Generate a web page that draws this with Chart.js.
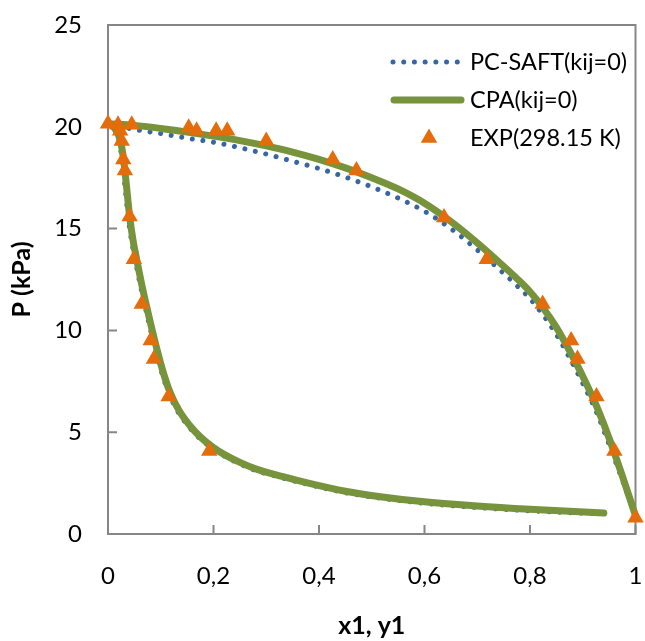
<!DOCTYPE html>
<html>
<head>
<meta charset="utf-8">
<script src="https://cdn.jsdelivr.net/npm/chart.js@4.4.0/dist/chart.umd.min.js"></script>
<style>
  body { margin: 0; background: #fff; }
</style>
</head>
<body>
<canvas id="vleChart" width="645" height="641"></canvas>
<script>
// PC-SAFT(kij=0), bubble (liquid x1) and dew (vapour y1) curves
const saftBubbleX = [0, 0.05, 0.10, 0.15, 0.20, 0.25, 0.30, 0.35, 0.40, 0.45, 0.50, 0.55, 0.60, 0.65, 0.70, 0.75, 0.775, 0.80, 0.825, 0.85, 0.875, 0.90, 0.925, 0.95, 0.975, 1.0];
const saftBubbleP = [20.15, 19.87, 19.67, 19.44, 19.24, 18.97, 18.66, 18.31, 17.95, 17.53, 17.05, 16.5, 15.85, 15.0, 13.95, 12.8, 12.2, 11.55, 10.75, 9.8, 8.65, 7.4, 6.05, 4.4, 2.65, 0.9];
const saftDewX = [0, 0.010, 0.017, 0.023, 0.027, 0.032, 0.038, 0.044, 0.052, 0.061, 0.070, 0.079, 0.089, 0.101, 0.114, 0.132, 0.152, 0.172, 0.195, 0.217, 0.246, 0.277, 0.33, 0.38, 0.45, 0.52, 0.6, 0.7, 0.8, 0.92];
const saftDewP = [20.15, 19.95, 19.6, 19.0, 18.3, 17.1, 15.6, 14.5, 13.4, 12.25, 11.2, 10.2, 9.15, 8.0, 7.0, 6.03, 5.3, 4.74, 4.25, 3.88, 3.49, 3.15, 2.76, 2.43, 2.03, 1.75, 1.51, 1.3, 1.14, 1.0];

// CPA(kij=0)
const cpaBubbleX = [0, 0.05, 0.10, 0.15, 0.20, 0.25, 0.30, 0.35, 0.40, 0.45, 0.50, 0.55, 0.60, 0.65, 0.70, 0.75, 0.775, 0.80, 0.825, 0.85, 0.875, 0.90, 0.925, 0.95, 0.975, 1.0];
const cpaBubbleP = [20.15, 20.07, 19.92, 19.74, 19.54, 19.32, 19.06, 18.76, 18.4, 17.98, 17.5, 16.95, 16.25, 15.35, 14.3, 13.15, 12.55, 11.9, 11.1, 10.15, 9.0, 7.75, 6.35, 4.7, 2.85, 0.9];
const cpaDewX = [0, 0.012, 0.02, 0.026, 0.03, 0.035, 0.041, 0.047, 0.055, 0.064, 0.073, 0.082, 0.092, 0.104, 0.117, 0.135, 0.155, 0.175, 0.198, 0.22, 0.249, 0.28, 0.33, 0.38, 0.45, 0.52, 0.6, 0.7, 0.8, 0.94];
const cpaDewP = [20.15, 19.95, 19.6, 19.0, 18.3, 17.1, 15.6, 14.5, 13.4, 12.25, 11.2, 10.2, 9.15, 8.0, 7.0, 6.05, 5.33, 4.77, 4.28, 3.91, 3.53, 3.2, 2.83, 2.5, 2.1, 1.82, 1.58, 1.37, 1.21, 1.03];

// EXP(298.15 K)
const expX = [0, 0.019, 0.023, 0.045, 0.026, 0.029, 0.032, 0.041, 0.049, 0.064, 0.081, 0.087, 0.115, 0.192,
              0.153, 0.168, 0.205, 0.226, 0.30, 0.426, 0.471, 0.637, 0.718, 0.824, 0.878, 0.89, 0.926, 0.96, 1.0];
const expP = [20.15, 20.1, 19.8, 20.1, 19.3, 18.4, 17.85, 15.6, 13.5, 11.3, 9.5, 8.6, 6.75, 4.08,
              19.95, 19.8, 19.8, 19.8, 19.3, 18.4, 17.85, 15.55, 13.5, 11.3, 9.5, 8.6, 6.75, 4.08, 0.8];

const xTickLabels = ['0', '0,2', '0,4', '0,6', '0,8', '1'];
const yTickLabels = ['0', '5', '10', '15', '20', '25'];

const saftColor = '#3865a3';
const cpaColor = '#77933c';
const expColor = '#e46c0a';

function toPoints(xs, ys) {
  return xs.map((x, i) => ({ x: x, y: ys[i] }));
}

function curve(label, xs, ys, color, width, dash, order) {
  return {
    label: label,
    data: toPoints(xs, ys),
    showLine: true,
    borderColor: color,
    borderWidth: width,
    borderDash: dash,
    borderCapStyle: 'round',
    borderJoinStyle: 'round',
    cubicInterpolationMode: 'monotone',
    pointRadius: 0,
    fill: false,
    clip: false,
    order: order
  };
}

// grey box round the plot plus the little inside ticks
const frame = {
  id: 'frame',
  beforeDatasetsDraw(chart) {
    const { ctx, chartArea: a, scales: { x, y } } = chart;
    ctx.save();
    ctx.strokeStyle = '#868686';
    ctx.lineWidth = 2;
    ctx.strokeRect(a.left, a.top, a.right - a.left, a.bottom - a.top);
    ctx.beginPath();
    x.ticks.forEach(t => {
      const px = x.getPixelForValue(t.value);
      ctx.moveTo(px, a.bottom);
      ctx.lineTo(px, a.bottom - 9);
    });
    y.ticks.forEach(t => {
      const py = y.getPixelForValue(t.value);
      ctx.moveTo(a.left, py);
      ctx.lineTo(a.left + 9, py);
    });
    ctx.stroke();
    ctx.restore();
  }
};

// legend like the excel one: dotted / solid / triangle
const sideLegend = {
  id: 'sideLegend',
  afterDatasetsDraw(chart) {
    const ctx = chart.ctx;
    const ds = chart.data.datasets;
    const left = 393, textX = 470, rows = [62, 100, 138];
    ctx.save();

    ctx.beginPath();
    ctx.setLineDash([0.01, 10.7]);
    ctx.lineCap = 'round';
    ctx.lineWidth = 5;
    ctx.strokeStyle = saftColor;
    ctx.moveTo(left, rows[0]);
    ctx.lineTo(left + 66, rows[0]);
    ctx.stroke();

    ctx.beginPath();
    ctx.setLineDash([]);
    ctx.lineWidth = 7;
    ctx.strokeStyle = cpaColor;
    ctx.moveTo(left + 1, rows[1]);
    ctx.lineTo(left + 68, rows[1]);
    ctx.stroke();

    const cx = 429, cy = rows[2], r = 9.5;
    ctx.beginPath();
    ctx.fillStyle = expColor;
    ctx.moveTo(cx, cy - r);
    ctx.lineTo(cx + r * 0.866, cy + r / 2);
    ctx.lineTo(cx - r * 0.866, cy + r / 2);
    ctx.closePath();
    ctx.fill();

    ctx.fillStyle = '#000';
    ctx.font = '23.5px Lato';
    ctx.textBaseline = 'middle';
    ctx.fillText(ds[0].label, textX, rows[0]);
    ctx.fillText(ds[2].label, textX, rows[1]);
    ctx.fillText(ds[4].label, textX, rows[2]);
    ctx.restore();
  }
};

Chart.defaults.font.family = 'Lato';
Chart.defaults.color = '#000';

new Chart(document.getElementById('vleChart'), {
  type: 'scatter',
  data: {
    datasets: [
      curve('PC-SAFT(kij=0)', saftBubbleX, saftBubbleP, saftColor, 5, [0.01, 10.7], 3),
      curve('PC-SAFT(kij=0)', saftDewX, saftDewP, saftColor, 5, [0.01, 10.7], 3),
      curve('CPA(kij=0)', cpaBubbleX, cpaBubbleP, cpaColor, 7, [], 2),
      curve('CPA(kij=0)', cpaDewX, cpaDewP, cpaColor, 7, [], 2),
      {
        label: 'EXP(298.15 K)',
        data: toPoints(expX, expP),
        pointStyle: 'triangle',
        pointRadius: 9.5,
        pointBackgroundColor: expColor,
        pointBorderColor: expColor,
        pointBorderWidth: 0,
        clip: false,
        order: 1
      }
    ]
  },
  options: {
    responsive: false,
    animation: false,
    devicePixelRatio: 1,
    layout: { padding: { top: 25, right: 6, left: 0, bottom: 0 } },
    plugins: {
      legend: { display: false },
      tooltip: { enabled: false }
    },
    scales: {
      x: {
        type: 'linear',
        min: 0,
        max: 1,
        afterFit: s => { s.height = 107; s.paddingLeft = 0; s.paddingRight = 0; },
        grid: { display: false, drawTicks: false },
        border: { display: false },
        ticks: {
          stepSize: 0.2,
          padding: 28,
          font: { size: 24 },
          callback: (v, i) => xTickLabels[i]
        },
        title: {
          display: true,
          text: 'x1, y1',
          font: { size: 25, weight: 'bold' },
          padding: { top: 0, bottom: 0 }
        }
      },
      y: {
        type: 'linear',
        min: 0,
        max: 25,
        afterFit: s => { s.width = 108; s.paddingTop = 0; s.paddingBottom = 0; },
        grid: { display: false, drawTicks: false },
        border: { display: false },
        ticks: {
          stepSize: 5,
          padding: 26,
          font: { size: 24 },
          callback: (v, i) => yTickLabels[i]
        },
        title: {
          display: true,
          text: 'P (kPa)',
          font: { size: 25, weight: 'bold' },
          padding: { top: 7, bottom: 0 }
        }
      }
    }
  },
  plugins: [frame, sideLegend]
});
</script>
</body>
</html>
